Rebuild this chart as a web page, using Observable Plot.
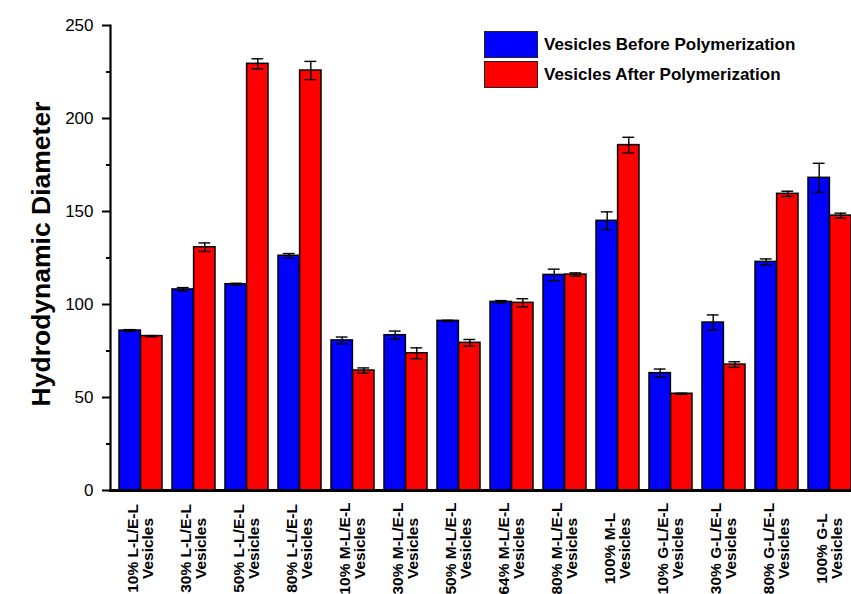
<!DOCTYPE html>
<html>
<head>
<meta charset="utf-8">
<script src="https://cdn.jsdelivr.net/npm/d3@7"></script>
<script src="https://cdn.jsdelivr.net/npm/@observablehq/plot@0.6"></script>
<style>
  html, body { margin: 0; padding: 0; background: #fff; overflow: hidden; }
  #chart { position: relative; width: 851px; height: 594px; }
  #chart svg { display: block; }
  .legend { position: absolute; left: 484px; top: 31px; font: bold 17px "Liberation Sans", Arial, sans-serif; color: #000; }
  .legend .row { display: flex; align-items: center; height: 27px; margin-bottom: 3px; }
  .legend .sw { width: 52px; height: 25px; border: 1px solid #222; margin-right: 6px; }
</style>
</head>
<body>
<div id="chart"></div>
<script>
// Sample groups (tick labels, two lines each)
const categories = [
  "10% L-L/E-L\nVesicles", "30% L-L/E-L\nVesicles", "50% L-L/E-L\nVesicles", "80% L-L/E-L\nVesicles",
  "10% M-L/E-L\nVesicles", "30% M-L/E-L\nVesicles", "50% M-L/E-L\nVesicles", "64% M-L/E-L\nVesicles",
  "80% M-L/E-L\nVesicles", "100% M-L\nVesicles", "10% G-L/E-L\nVesicles", "30% G-L/E-L\nVesicles",
  "80% G-L/E-L\nVesicles", "100% G-L\nVesicles"
];
// Hydrodynamic diameter before polymerization, with error
const before    = [86.0, 108.1, 110.9, 126.2, 80.7, 83.5, 91.2, 101.4, 115.9, 145.0, 63.1, 90.3, 122.9, 168.1];
const beforeErr = [0.5, 1.0, 0.5, 1.2, 1.8, 2.2, 0.3, 0.7, 3.1, 4.8, 2.2, 4.1, 1.6, 7.8];
// Hydrodynamic diameter after polymerization, with error
const after     = [83.0, 130.8, 229.4, 225.8, 64.5, 73.8, 79.4, 100.9, 116.1, 185.7, 52.0, 67.7, 159.5, 147.8];
const afterErr  = [0.3, 2.3, 2.7, 4.9, 1.4, 2.9, 1.8, 2.2, 0.9, 4.2, 0.3, 1.5, 1.4, 1.3];
const seriesNames = ["Vesicles Before Polymerization", "Vesicles After Polymerization"];
const seriesColors = ["#0000ff", "#ff0000"];
const yTicks = [0, 50, 100, 150, 200, 250];
const yMinorTicks = [25, 75, 125, 175, 225];

const rowsBefore = categories.map((c, i) => ({category: c, value: before[i], err: beforeErr[i]}));
const rowsAfter  = categories.map((c, i) => ({category: c, value: after[i], err: afterErr[i]}));

const font = '"Liberation Sans", Arial, sans-serif';
const half = 21.6;   // half of a group's band: one bar per half

const errMarks = (rows, dx) => [
  Plot.ruleX(rows, {x: "category", y1: d => d.value - d.err, y2: d => d.value + d.err, dx, stroke: "#000", strokeWidth: 1.4}),
  Plot.tickY(rows, {x: "category", y: d => d.value + d.err, dx, inset: 15.6, stroke: "#000", strokeWidth: 1.4}),
  Plot.tickY(rows, {x: "category", y: d => d.value - d.err, dx, inset: 15.6, stroke: "#000", strokeWidth: 1.4})
];

const chart = Plot.plot({
  width: 851,
  height: 594,
  marginLeft: 110,
  marginRight: -8,
  marginTop: 25,
  marginBottom: 104,
  style: {fontFamily: font, background: "#fff"},
  x: {type: "band", domain: categories, paddingInner: 0.19, paddingOuter: 0.122, axis: null},
  y: {domain: [0, 250], axis: null},
  marks: [
    Plot.barY(rowsBefore, {x: "category", y: "value", insetRight: half, fill: seriesColors[0], stroke: "#000", strokeWidth: 1.5}),
    Plot.barY(rowsAfter,  {x: "category", y: "value", insetLeft: half,  fill: seriesColors[1], stroke: "#000", strokeWidth: 1.5}),
    ...errMarks(rowsBefore, -half / 2),
    ...errMarks(rowsAfter, half / 2),
    // y axis: minor and major ticks, then the axis lines
    Plot.axisY({ticks: yMinorTicks, tickSize: 4, text: null, strokeWidth: 2, label: null}),
    Plot.axisY({ticks: yTicks, tickSize: 8, tickPadding: 9, fontSize: 17, strokeWidth: 2, label: null, fill: "#000"}),
    Plot.frame({anchor: "left", strokeWidth: 2.2, stroke: "#000"}),
    Plot.frame({anchor: "bottom", strokeWidth: 3, stroke: "#000"}),
    // group labels, rotated
    Plot.text(categories, {x: d => d, text: d => d, frameAnchor: "bottom", dy: 58, rotate: -90,
      textAnchor: "middle", lineAnchor: "middle", lineHeight: 0.93, fontSize: 15.5, fontWeight: "bold", fill: "#000"}),
    // y axis title
    Plot.text(["Hydrodynamic Diameter"], {text: d => d, frameAnchor: "left", dx: -69, dy: -4, rotate: -90,
      textAnchor: "middle", fontSize: 26.5, fontWeight: "bold", fill: "#000"})
  ]
});

const host = document.getElementById("chart");
host.appendChild(chart);

// legend
const legend = document.createElement("div");
legend.className = "legend";
seriesNames.forEach((name, i) => {
  const row = document.createElement("div");
  row.className = "row";
  const sw = document.createElement("div");
  sw.className = "sw";
  sw.style.background = seriesColors[i];
  const label = document.createElement("span");
  label.textContent = name;
  row.appendChild(sw);
  row.appendChild(label);
  legend.appendChild(row);
});
host.appendChild(legend);
</script>
</body>
</html>
